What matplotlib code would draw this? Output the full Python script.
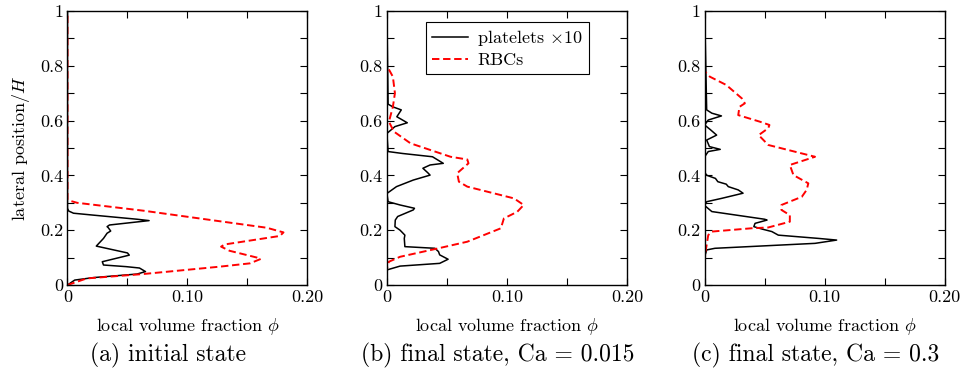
import matplotlib
matplotlib.use("Agg")
import matplotlib.pyplot as plt
from matplotlib.ticker import FixedLocator, MultipleLocator, FixedFormatter

plt.rcParams["font.family"] = "serif"
plt.rcParams["font.serif"] = ["cmr10", "DejaVu Serif"]
plt.rcParams["mathtext.fontset"] = "cm"
plt.rcParams["axes.formatter.use_mathtext"] = True

# (a) initial state
plt_a_y = [0, 0.018, 0.027, 0.04, 0.049, 0.062, 0.067, 0.073, 0.085, 0.109, 0.117,
           0.142, 0.170, 0.189, 0.197, 0.209, 0.213, 0.219, 0.235, 0.24, 0.255,
           0.262, 0.27, 0.28, 1.0]
plt_a_x = [0, 0.006, 0.0215, 0.058, 0.065, 0.06, 0.049, 0.03, 0.029, 0.0515, 0.05,
           0.024, 0.030, 0.033, 0.036, 0.034, 0.033, 0.035, 0.068, 0.058, 0.0215,
           0.005, 0.001, 0, 0]
rbc_a_y = [0, 0.024, 0.04, 0.067, 0.079, 0.095, 0.10, 0.125, 0.14, 0.148, 0.179,
           0.192, 0.209, 0.271, 0.30, 0.31, 1.0]
rbc_a_x = [0, 0.016, 0.063, 0.127, 0.152, 0.161, 0.158, 0.135, 0.128, 0.131, 0.177,
           0.18, 0.166, 0.0636, 0.008, 0, 0]

# (b) final state, Ca = 0.015
plt_b_y = [0, 0.055, 0.069, 0.079, 0.094, 0.11, 0.122, 0.134, 0.14, 0.17, 0.182,
           0.2, 0.213, 0.237, 0.25, 0.274, 0.28, 0.292, 0.304, 0.334, 0.359, 0.383,
           0.401, 0.41, 0.426, 0.438, 0.444, 0.468, 0.48, 0.487, 0.553, 0.578,
           0.592, 0.614, 0.639, 0.65, 0.66, 1.0]
plt_b_x = [0, 0, 0.011, 0.044, 0.051, 0.044, 0.043, 0.04, 0.015, 0.0145, 0.015,
           0.011, 0.0067, 0.007, 0.009, 0.022, 0.023, 0.011, 0.001, 0, 0.008, 0.022,
           0.036, 0.034, 0.030, 0.036, 0.047, 0.038, 0.013, 0.001, 0, 0.0067,
           0.017, 0.0083, 0.012, 0.005, 0.001, 0]
rbc_b_y = [0, 0.06, 0.085, 0.103, 0.134, 0.158, 0.207, 0.243, 0.267, 0.292, 0.316,
           0.359, 0.377, 0.408, 0.444, 0.458, 0.468, 0.517, 0.56, 0.596, 0.65,
           0.70, 0.76, 0.80, 1.0]
rbc_b_x = [0, 0, 0.0017, 0.011, 0.043, 0.067, 0.095, 0.0975, 0.1086, 0.114, 0.106,
           0.067, 0.060, 0.0586, 0.068, 0.067, 0.053, 0.0197, 0.0058, 0.0017, 0.005,
           0.0067, 0.005, 0, 0]

# (c) final state, Ca = 0.3
plt_c_y = [0, 0.103, 0.128, 0.134, 0.152, 0.164, 0.17, 0.182, 0.195, 0.204, 0.213,
           0.225, 0.237, 0.24, 0.268, 0.29, 0.304, 0.316, 0.335, 0.347, 0.359,
           0.368, 0.377, 0.389, 0.4, 0.41, 0.468, 0.487, 0.495, 0.505, 0.529,
           0.547, 0.566, 0.584, 0.602, 0.617, 0.627, 0.639, 1.0]
plt_c_x = [0, 0, 0.0017, 0.0086, 0.092, 0.11, 0.095, 0.0614, 0.056, 0.048, 0.041,
           0.042, 0.052, 0.05, 0.006, 0, 0.0017, 0.014, 0.032, 0.028, 0.0197,
           0.018, 0.011, 0.009, 0.002, 0, 0, 0.003, 0.013, 0.004, 0.0017,
           0.010, 0.005, 0, 0.003, 0.014, 0.006, 0.0017, 0]
rbc_c_y = [0, 0.09, 0.128, 0.182, 0.195, 0.207, 0.21, 0.231, 0.255, 0.274, 0.292,
           0.322, 0.347, 0.371, 0.401, 0.438, 0.468, 0.511, 0.547, 0.572, 0.584,
           0.596, 0.62, 0.65, 0.663, 0.681, 0.73, 0.76, 0.78, 1.0]
rbc_c_x = [0, 0, 0.001, 0.003, 0.006, 0.039, 0.053, 0.071, 0.071, 0.064, 0.064,
           0.081, 0.085, 0.0864, 0.074, 0.071, 0.092, 0.053, 0.045, 0.053, 0.054,
           0.046, 0.028, 0.029, 0.0335, 0.031, 0.018, 0.0044, 0, 0]

panels = [
    (plt_a_x, plt_a_y, rbc_a_x, rbc_a_y, "(a) initial state"),
    (plt_b_x, plt_b_y, rbc_b_x, rbc_b_y, "(b) final state, Ca = 0.015"),
    (plt_c_x, plt_c_y, rbc_c_x, rbc_c_y, "(c) final state, Ca = 0.3"),
]
lefts = [0.0703, 0.403, 0.734]
caption_x = [0.175, 0.519, 0.850]

fig = plt.figure(figsize=(9.6, 3.78), dpi=100)
for i, (px, py, rx, ry, caption) in enumerate(panels):
    ax = fig.add_axes([lefts[i], 0.246, 0.25, 0.725])
    l1, = ax.plot(px, py, color="black", lw=1.1, label=r"platelets $\times 10$")
    l2, = ax.plot(rx, ry, color="red", lw=1.4, linestyle=(0, (3.8, 1.9)), label="RBCs")
    ax.set_xlim(0, 0.2)
    ax.set_ylim(0, 1)
    ax.xaxis.set_major_locator(FixedLocator([0, 0.1, 0.2]))
    ax.xaxis.set_major_formatter(FixedFormatter(["0", "0.10", "0.20"]))
    ax.xaxis.set_minor_locator(MultipleLocator(0.05))
    ax.yaxis.set_major_locator(FixedLocator([0, 0.2, 0.4, 0.6, 0.8, 1.0]))
    ax.yaxis.set_major_formatter(FixedFormatter(["0", "0.2", "0.4", "0.6", "0.8", "1"]))
    ax.yaxis.set_minor_locator(MultipleLocator(0.1))
    ax.tick_params(which="both", direction="in", top=True, right=True,
                   length=5, width=0.8, labelsize=13)
    ax.tick_params(axis="x", pad=3)
    ax.tick_params(axis="y", pad=3)
    for s in ax.spines.values():
        s.set_linewidth(1.0)
    ax.set_xlabel(r"local volume fraction $\phi$", fontsize=13, labelpad=8)
    if i == 0:
        ax.set_ylabel(r"lateral position$/H$", fontsize=13, labelpad=6)
    if i == 1:
        leg = ax.legend(handles=[l1, l2], loc="upper left", bbox_to_anchor=(0.161, 0.961),
                        borderaxespad=0, fontsize=13, fancybox=False, framealpha=1,
                        edgecolor="black", handlelength=2.0, borderpad=0.35,
                        labelspacing=0.25, handletextpad=0.5)
        leg.get_frame().set_linewidth(0.8)
    fig.text(caption_x[i], 0.06, caption, fontsize=17, ha="center", va="center")

fig.savefig("out.png", dpi=100)
